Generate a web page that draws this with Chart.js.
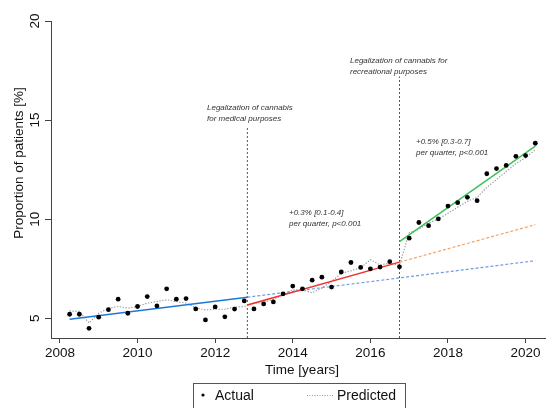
<!DOCTYPE html>
<html>
<head>
<meta charset="utf-8">
<script src="https://cdn.jsdelivr.net/npm/chart.js@4.4.1/dist/chart.umd.min.js"></script>
<style>
  body { margin: 0; background: #fff; }
  canvas { display: block; }
</style>
</head>
<body>
<canvas id="chart" width="549" height="408"></canvas>
<script>
// quarterly series, 2008Q2 - 2020Q2
const quarters = [
  '2008Q2','2008Q3','2008Q4',
  '2009Q1','2009Q2','2009Q3','2009Q4',
  '2010Q1','2010Q2','2010Q3','2010Q4',
  '2011Q1','2011Q2','2011Q3','2011Q4',
  '2012Q1','2012Q2','2012Q3','2012Q4',
  '2013Q1','2013Q2','2013Q3','2013Q4',
  '2014Q1','2014Q2','2014Q3','2014Q4',
  '2015Q1','2015Q2','2015Q3','2015Q4',
  '2016Q1','2016Q2','2016Q3','2016Q4',
  '2017Q1','2017Q2','2017Q3','2017Q4',
  '2018Q1','2018Q2','2018Q3','2018Q4',
  '2019Q1','2019Q2','2019Q3','2019Q4',
  '2020Q1','2020Q2'
];
const actual = [
  5.20, 5.20, 4.49, 5.05, 5.43, 5.96, 5.25, 5.59, 6.09, 5.62,
  6.48, 5.96, 5.99, 5.47, 4.91, 5.57, 5.07, 5.46, 5.87, 5.47,
  5.72, 5.82, 6.23, 6.62, 6.48, 6.92, 7.07, 6.57, 7.33, 7.81,
  7.56, 7.49, 7.58, 7.85, 7.59, 9.04, 9.83, 9.67, 10.01, 10.66,
  10.83, 11.10, 10.93, 12.29, 12.55, 12.71, 13.17, 13.21, 13.83
];
const predicted = [
  5.37, 5.34, 4.76, 5.25, 5.50, 5.59, 5.51, 5.59, 5.76, 5.84,
  5.93, 5.84, 5.76, 5.52, 5.42, 5.45, 5.45, 5.56, 5.59, 5.75,
  5.80, 5.95, 6.18, 6.43, 6.43, 6.28, 6.53, 6.85, 7.27, 7.39,
  7.54, 7.95, 7.69, 7.77, 7.69, 9.30, 9.50, 9.80, 10.00, 10.30,
  10.60, 10.90, 11.10, 11.60, 12.00, 12.40, 12.80, 13.10, 13.50
];

// fitted segments [x, y] start and end
const fitPre = [[2008.25, 4.95], [2012.83, 6.06]];
const fitPreCf = [[2012.83, 6.06], [2020.25, 7.90]];
const fitMed = [[2012.83, 5.67], [2016.75, 7.83]];
const fitMedCf = [[2016.75, 7.83], [2020.25, 9.72]];
const fitRec = [[2016.75, 8.87], [2020.25, 13.68]];

// legalization events: year, top of marker line
const eventYears = [2012.83, 2016.75];
const eventTops = [14.67, 17.2];

const xTicks = [2008, 2010, 2012, 2014, 2016, 2018, 2020];
const yTicks = [5, 10, 15, 20];

const FONT = '"Liberation Sans", Arial, Helvetica, sans-serif';

const quarterToYear = q => +q.slice(0, 4) + (+q.slice(5) - 1) / 4;
const xs = quarters.map(quarterToYear);
const pts = (arr) => arr.map(p => ({ x: p[0], y: p[1] }));

function segment(data, color, dash, width) {
  return {
    type: 'line', data: pts(data), borderColor: color, borderWidth: width || 1.5,
    borderDash: dash || [], pointRadius: 0, fill: false, tension: 0
  };
}

const datasets = [
  {
    label: 'Actual', type: 'scatter',
    data: xs.map((x, i) => ({ x, y: actual[i] })),
    backgroundColor: '#000', borderColor: '#000', pointRadius: 2.4, borderWidth: 0
  },
  segment(fitPre, '#1f78d6'),
  segment(fitMed, '#f0302a'),
  segment(fitRec, '#3ebf5c'),
  segment(fitPreCf, '#6e9de6', [3, 2], 1.2),
  segment(fitMedCf, '#f5a266', [3, 2], 1.2),
  {
    label: 'Predicted', type: 'line',
    data: xs.map((x, i) => ({ x, y: predicted[i] })),
    borderColor: '#9a9a9a', borderWidth: 1.2, borderDash: [1.3, 1.6],
    pointRadius: 0, fill: false, tension: 0
  }
];
eventYears.forEach((yr, i) => {
  datasets.push(segment([[yr, 4], [yr, eventTops[i]]], '#555', [2, 2], 1));
});

const notes = [
  { x: 207, y: 108, lines: ['Legalization of cannabis', 'for medical purposes'] },
  { x: 350, y: 61, lines: ['Legalization of cannabis for', 'recreational purposes'] },
  { x: 289, y: 213, lines: ['+0.3% [0.1-0.4]', 'per quarter, p<0.001'] },
  { x: 416, y: 142, lines: ['+0.5% [0.3-0.7]', 'per quarter, p<0.001'] }
];

const overlay = {
  id: 'overlay',
  afterDraw(chart) {
    const c = chart.ctx;
    c.save();
    c.fillStyle = '#333';
    c.textBaseline = 'middle';
    c.textAlign = 'left';
    c.font = 'italic 8px ' + FONT;
    notes.forEach(n => n.lines.forEach((t, i) => c.fillText(t, n.x, n.y + i * 11)));

    // axis titles
    c.fillStyle = '#111';
    c.font = '13.5px ' + FONT;
    c.textAlign = 'center';
    c.fillText('Time [years]', 302, 370);
    c.save();
    c.translate(19, 163);
    c.rotate(-Math.PI / 2);
    c.fillText('Proportion of patients [%]', 0, 0);
    c.restore();

    // legend
    c.strokeStyle = '#555';
    c.lineWidth = 1;
    c.strokeRect(193.5, 383.5, 212, 40);
    c.beginPath();
    c.arc(203, 395, 1.6, 0, Math.PI * 2);
    c.fillStyle = '#000';
    c.fill();
    c.fillStyle = '#111';
    c.font = '14px ' + FONT;
    c.textAlign = 'left';
    c.fillText('Actual', 215, 396);
    c.fillText('Predicted', 337, 396);
    c.strokeStyle = '#9a9a9a';
    c.setLineDash([1, 1.5]);
    c.beginPath();
    c.moveTo(307, 395.5);
    c.lineTo(333, 395.5);
    c.stroke();
    c.restore();
  }
};

new Chart(document.getElementById('chart').getContext('2d'), {
  type: 'scatter',
  data: { datasets },
  options: {
    responsive: false,
    animation: false,
    layout: { padding: { top: 21, right: 4, left: 0, bottom: 0 } },
    plugins: { legend: { display: false }, tooltip: { enabled: false } },
    scales: {
      x: {
        type: 'linear', min: 2007.77, max: 2020.5,
        afterBuildTicks: s => { s.ticks = xTicks.map(v => ({ value: v })); },
        afterFit: s => { s.height = 70; },
        grid: { drawOnChartArea: false, drawTicks: true, tickLength: 5, color: '#444' },
        border: { display: true, color: '#444', width: 1 },
        ticks: {
          color: '#111', padding: 2, maxRotation: 0, minRotation: 0,
          font: { size: 13.5, family: FONT }, callback: v => String(v)
        }
      },
      y: {
        type: 'linear', min: 4, max: 20,
        afterBuildTicks: s => { s.ticks = yTicks.map(v => ({ value: v })); },
        afterFit: s => { s.width = 51; },
        grid: { drawOnChartArea: false, drawTicks: true, tickLength: 6, color: '#444' },
        border: { display: true, color: '#444', width: 1 },
        ticks: {
          color: '#111', padding: 2.5, minRotation: 90, maxRotation: 90, crossAlign: 'center',
          font: { size: 13.5, family: FONT }, callback: v => String(v)
        }
      }
    }
  },
  plugins: [overlay]
});
</script>
</body>
</html>
